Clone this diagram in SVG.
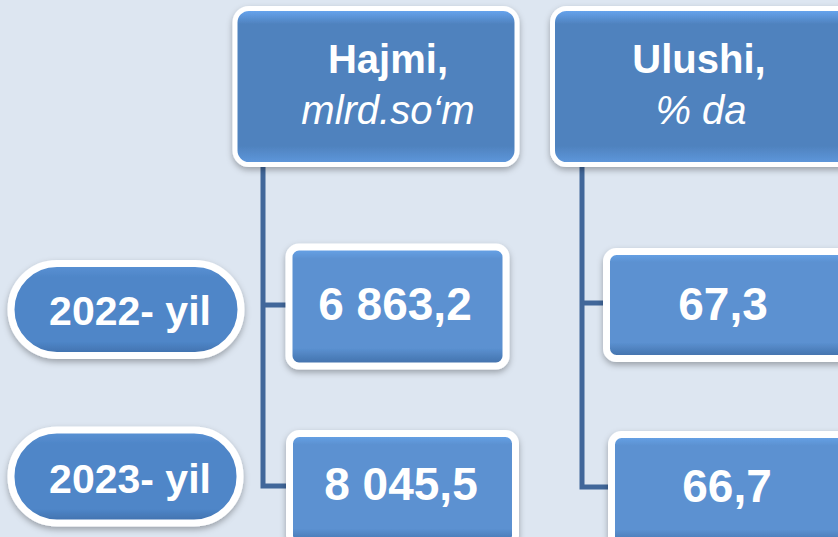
<svg xmlns="http://www.w3.org/2000/svg" width="838" height="537" viewBox="0 0 838 537">
<defs>
<linearGradient id="gHead" x1="0" y1="0" x2="0" y2="1">
<stop offset="0" stop-color="#6aa9f5"/>
<stop offset="0.1" stop-color="#4f82be"/>
<stop offset="0.88" stop-color="#4f82be"/>
<stop offset="1" stop-color="#5f99de"/>
</linearGradient>
<linearGradient id="gVal" x1="0" y1="0" x2="0" y2="1">
<stop offset="0" stop-color="#6aa6ec"/>
<stop offset="0.1" stop-color="#5b91d1"/>
<stop offset="0.85" stop-color="#5b91d1"/>
<stop offset="1" stop-color="#3f6da6"/>
</linearGradient>
<linearGradient id="gPill" x1="0" y1="0" x2="0" y2="1">
<stop offset="0" stop-color="#5a93d6"/>
<stop offset="0.15" stop-color="#4f86c8"/>
<stop offset="0.85" stop-color="#4f86c8"/>
<stop offset="1" stop-color="#3e6ea9"/>
</linearGradient>
<filter id="sh" x="-10%" y="-10%" width="120%" height="130%">
<feDropShadow dx="0" dy="3" stdDeviation="3" flood-color="#000" flood-opacity="0.3"/>
</filter>
</defs>
<style>
.head{fill:url(#gHead);stroke:#fff;stroke-width:5;filter:url(#sh)}
.val{fill:url(#gVal);stroke:#fff;stroke-width:7;filter:url(#sh)}
.pill{fill:url(#gPill);stroke:#fff;stroke-width:7;filter:url(#sh)}
.t{font-family:"Liberation Sans",Arial,sans-serif;fill:#fff;text-anchor:middle}
.b{font-weight:bold}
.h{font-size:40px}
.v{font-size:46px;font-weight:bold}
.p{font-size:41px;font-weight:bold}
.i{font-style:italic}
.conn{fill:none;stroke:#41679a;stroke-width:5}
</style>
<rect width="838" height="537" fill="#dde6f1"/>
<g id="connectors">
<path class="conn" d="M263 166 V486 H292 M263 305 H292"/>
<path class="conn" d="M582 166 V487 H612 M582 303 H608"/>
</g>
<g id="head-hajmi">
<rect class="head" x="235" y="8.5" width="282" height="156" rx="14"/>
<text class="t b h" x="388" y="73">Hajmi,</text>
<text class="t i h" x="388" y="124">mlrd.so‘m</text>
</g>
<g id="head-ulushi">
<rect class="head" x="552.5" y="8.5" width="310" height="156" rx="14"/>
<text class="t b h" x="699" y="73">Ulushi,</text>
<text class="t i h" x="701" y="124">% da</text>
</g>
<g id="year-2022">
<rect class="pill" x="11" y="263.5" width="230" height="92" rx="46"/>
<text class="t p" x="130" y="325">2022- yil</text>
</g>
<g id="year-2023">
<rect class="pill" x="11" y="430" width="229" height="93" rx="46"/>
<text class="t p" x="130" y="493">2023- yil</text>
</g>
<g id="hajmi-2022">
<rect class="val" x="289" y="247" width="217" height="119" rx="10"/>
<text class="t v" x="395" y="320">6 863,2</text>
</g>
<g id="hajmi-2023">
<rect class="val" x="289.5" y="433.5" width="226" height="112" rx="10"/>
<text class="t v" x="401" y="500">8 045,5</text>
</g>
<g id="ulushi-2022">
<rect class="val" x="606.5" y="251.5" width="260" height="107" rx="10"/>
<text class="t v" x="723" y="320">67,3</text>
</g>
<g id="ulushi-2023">
<rect class="val" x="611.5" y="434.5" width="260" height="112" rx="10"/>
<text class="t v" x="727" y="502">66,7</text>
</g>
</svg>
